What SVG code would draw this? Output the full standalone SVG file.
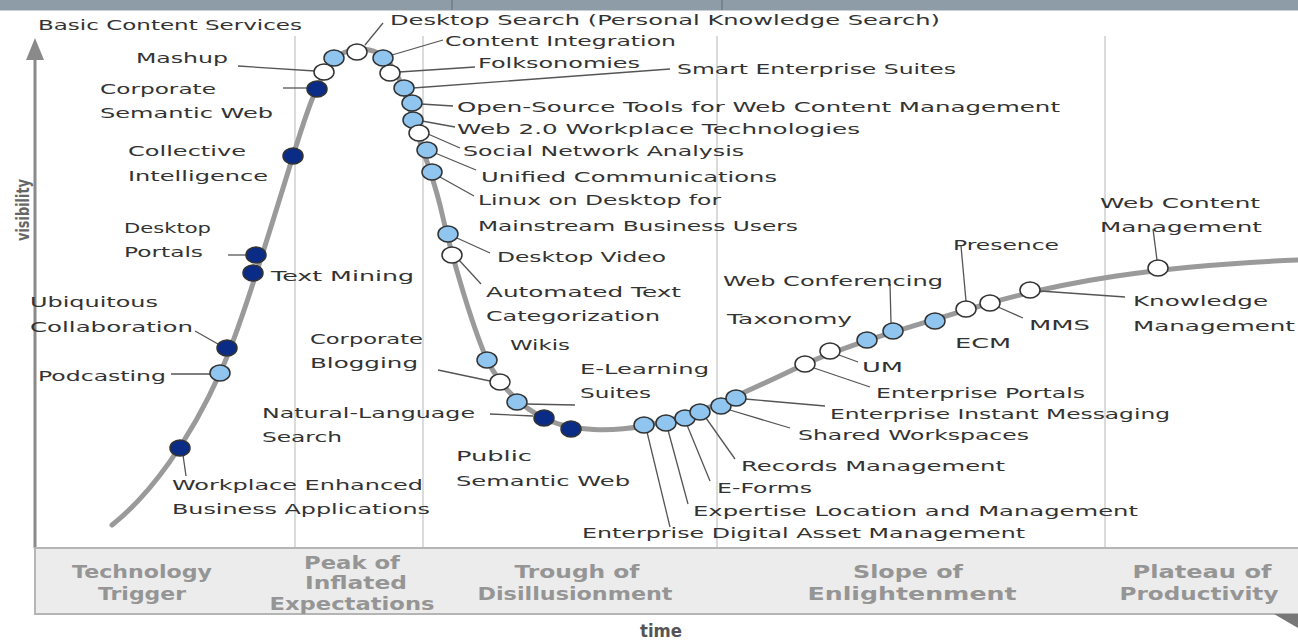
<svg xmlns="http://www.w3.org/2000/svg" width="1298" height="642" viewBox="0 0 1298 642">
<style>
.lbl{font-family:"DejaVu Sans","Liberation Sans",sans-serif;font-size:14px;fill:#333333;}
.ph{font-family:"DejaVu Sans","Liberation Sans",sans-serif;font-size:17px;font-weight:bold;fill:#959595;text-anchor:middle;}
.ax{font-family:"DejaVu Sans","Liberation Sans",sans-serif;font-weight:bold;fill:#555;}
.ld{stroke:#555;stroke-width:1.3;fill:none;}
.dk{fill:#0b2c86;stroke:#333;stroke-width:1.5;}
.lt{fill:#8fc5ef;stroke:#333;stroke-width:1.5;}
.wt{fill:#ffffff;stroke:#333;stroke-width:1.5;}
.div{stroke:#cfcfcf;stroke-width:1.5;}
</style>
<rect width="1298" height="642" fill="#ffffff"/>
<g id="topbar">
<rect x="0" y="0" width="1298" height="10" fill="#8d9ca7"/>
<line x1="0" y1="10.5" x2="1298" y2="10.5" stroke="#c9d0d5" stroke-width="1"/>
<line x1="452" y1="0" x2="452" y2="10" stroke="#6f7d88" stroke-width="1.5"/>
<line x1="722" y1="0" x2="722" y2="10" stroke="#6f7d88" stroke-width="1.5"/>
</g>
<g id="axes">
<line class="div" x1="295" y1="36" x2="295" y2="548"/>
<line class="div" x1="423" y1="36" x2="423" y2="548"/>
<line class="div" x1="717" y1="36" x2="717" y2="548"/>
<line class="div" x1="1105" y1="36" x2="1105" y2="548"/>
<line x1="35" y1="58" x2="35" y2="548" stroke="#8a8a8a" stroke-width="3"/>
<polygon points="26,60 44,60 35,38" fill="#8a8a8a"/>
<text class="ax" x="0" y="0" font-size="17" transform="translate(29,210) rotate(-90)" text-anchor="middle" style="fill:#666" textLength="62" lengthAdjust="spacingAndGlyphs">visibility</text>
<rect x="35" y="548" width="1270" height="66" fill="#ececec" stroke="#b5b5b5" stroke-width="2"/>
<polygon points="1274,614 1298,614 1298,628" fill="#777"/>
<text class="ax" x="661" y="637" font-size="17" text-anchor="middle" textLength="42" lengthAdjust="spacingAndGlyphs">time</text>
</g>
<g id="phases">
<text class="ph" x="142" y="578" textLength="140" lengthAdjust="spacingAndGlyphs">Technology</text>
<text class="ph" x="142" y="600" textLength="88" lengthAdjust="spacingAndGlyphs">Trigger</text>
<text class="ph" x="352" y="569" textLength="96" lengthAdjust="spacingAndGlyphs">Peak of</text>
<text class="ph" x="356" y="589" textLength="102" lengthAdjust="spacingAndGlyphs">Inflated</text>
<text class="ph" x="352" y="610" textLength="165" lengthAdjust="spacingAndGlyphs">Expectations</text>
<text class="ph" x="577" y="578" textLength="125" lengthAdjust="spacingAndGlyphs">Trough of</text>
<text class="ph" x="575" y="600" textLength="195" lengthAdjust="spacingAndGlyphs">Disillusionment</text>
<text class="ph" x="908" y="578" textLength="110" lengthAdjust="spacingAndGlyphs">Slope of</text>
<text class="ph" x="912" y="600" textLength="209" lengthAdjust="spacingAndGlyphs">Enlightenment</text>
<text class="ph" x="1202" y="578" textLength="139" lengthAdjust="spacingAndGlyphs">Plateau of</text>
<text class="ph" x="1199" y="600" textLength="159" lengthAdjust="spacingAndGlyphs">Productivity</text>
</g>
<path id="curve" d="M112,525 C150,495 190,440 220,373 C240,330 270,230 293,156 C305,118 318,72 340,55 C350,48 365,47 378,53 C395,62 405,90 413,120 C420,145 430,165 440,205 C450,250 470,320 487,360 C500,385 520,408 550,421 C575,431 610,432 644,426 C690,418 730,400 805,364 C850,344 900,330 990,303 C1060,283 1150,266 1298,260" fill="none" stroke="#9a9a9a" stroke-width="5" stroke-linecap="round"/>
<g id="connectors">
<line class="ld" x1="183" y1="455" x2="186" y2="476"/>
<line class="ld" x1="171" y1="374" x2="210" y2="374"/>
<line class="ld" x1="195" y1="331" x2="218" y2="344"/>
<line class="ld" x1="228" y1="255" x2="246" y2="255"/>
<line class="ld" x1="283" y1="88" x2="307" y2="88"/>
<line class="ld" x1="238" y1="66" x2="315" y2="71"/>
<line class="ld" x1="365" y1="45" x2="383" y2="23"/>
<line class="ld" x1="392" y1="55" x2="443" y2="40"/>
<line class="ld" x1="399" y1="72" x2="475" y2="67"/>
<line class="ld" x1="413" y1="88" x2="670" y2="69"/>
<line class="ld" x1="421" y1="104" x2="453" y2="106"/>
<line class="ld" x1="422" y1="121" x2="455" y2="127"/>
<line class="ld" x1="428" y1="134" x2="460" y2="148"/>
<line class="ld" x1="435" y1="153" x2="476" y2="170"/>
<line class="ld" x1="440" y1="177" x2="474" y2="196"/>
<line class="ld" x1="457" y1="238" x2="490" y2="253"/>
<line class="ld" x1="459" y1="260" x2="481" y2="284"/>
<line class="ld" x1="438" y1="370" x2="490" y2="381"/>
<line class="ld" x1="525" y1="404" x2="575" y2="405"/>
<line class="ld" x1="490" y1="414" x2="533" y2="416"/>
<line class="ld" x1="647" y1="432" x2="670" y2="527"/>
<line class="ld" x1="668" y1="430" x2="688" y2="504"/>
<line class="ld" x1="687" y1="425" x2="710" y2="481"/>
<line class="ld" x1="706" y1="418" x2="735" y2="459"/>
<line class="ld" x1="730" y1="410" x2="790" y2="428"/>
<line class="ld" x1="745" y1="399" x2="825" y2="406"/>
<line class="ld" x1="814" y1="368" x2="870" y2="387"/>
<line class="ld" x1="839" y1="355" x2="858" y2="362"/>
<line class="ld" x1="891" y1="323" x2="890" y2="284"/>
<line class="ld" x1="966" y1="301" x2="961" y2="246"/>
<line class="ld" x1="998" y1="307" x2="1023" y2="318"/>
<line class="ld" x1="1040" y1="291" x2="1125" y2="297"/>
<line class="ld" x1="1157" y1="260" x2="1153" y2="229"/>
</g>
<g id="labels">
<text class="lbl" x="38" y="30" textLength="264" lengthAdjust="spacingAndGlyphs">Basic Content Services</text>
<text class="lbl" x="390" y="25" textLength="550" lengthAdjust="spacingAndGlyphs">Desktop Search (Personal Knowledge Search)</text>
<text class="lbl" x="445" y="46" textLength="231" lengthAdjust="spacingAndGlyphs">Content Integration</text>
<text class="lbl" x="478" y="68" textLength="162" lengthAdjust="spacingAndGlyphs">Folksonomies</text>
<text class="lbl" x="677" y="74" textLength="279" lengthAdjust="spacingAndGlyphs">Smart Enterprise Suites</text>
<text class="lbl" x="457" y="112" textLength="603" lengthAdjust="spacingAndGlyphs">Open-Source Tools for Web Content Management</text>
<text class="lbl" x="457" y="134" textLength="403" lengthAdjust="spacingAndGlyphs">Web 2.0 Workplace Technologies</text>
<text class="lbl" x="463" y="156" textLength="281" lengthAdjust="spacingAndGlyphs">Social Network Analysis</text>
<text class="lbl" x="481" y="182" textLength="296" lengthAdjust="spacingAndGlyphs">Unified Communications</text>
<text class="lbl" x="478" y="205" textLength="243" lengthAdjust="spacingAndGlyphs">Linux on Desktop for</text>
<text class="lbl" x="478" y="231" textLength="320" lengthAdjust="spacingAndGlyphs">Mainstream Business Users</text>
<text class="lbl" x="497" y="262" textLength="169" lengthAdjust="spacingAndGlyphs">Desktop Video</text>
<text class="lbl" x="486" y="297" textLength="195" lengthAdjust="spacingAndGlyphs">Automated Text</text>
<text class="lbl" x="486" y="321" textLength="174" lengthAdjust="spacingAndGlyphs">Categorization</text>
<text class="lbl" x="136" y="63" textLength="92" lengthAdjust="spacingAndGlyphs">Mashup</text>
<text class="lbl" x="100" y="94" textLength="116" lengthAdjust="spacingAndGlyphs">Corporate</text>
<text class="lbl" x="100" y="118" textLength="173" lengthAdjust="spacingAndGlyphs">Semantic Web</text>
<text class="lbl" x="128" y="156" textLength="118" lengthAdjust="spacingAndGlyphs">Collective</text>
<text class="lbl" x="128" y="181" textLength="140" lengthAdjust="spacingAndGlyphs">Intelligence</text>
<text class="lbl" x="124" y="233" textLength="87" lengthAdjust="spacingAndGlyphs">Desktop</text>
<text class="lbl" x="124" y="257" textLength="79" lengthAdjust="spacingAndGlyphs">Portals</text>
<text class="lbl" x="271" y="281" textLength="143" lengthAdjust="spacingAndGlyphs">Text Mining</text>
<text class="lbl" x="30" y="307" textLength="128" lengthAdjust="spacingAndGlyphs">Ubiquitous</text>
<text class="lbl" x="30" y="332" textLength="163" lengthAdjust="spacingAndGlyphs">Collaboration</text>
<text class="lbl" x="38" y="381" textLength="128" lengthAdjust="spacingAndGlyphs">Podcasting</text>
<text class="lbl" x="172" y="490" textLength="251" lengthAdjust="spacingAndGlyphs">Workplace Enhanced</text>
<text class="lbl" x="172" y="514" textLength="258" lengthAdjust="spacingAndGlyphs">Business Applications</text>
<text class="lbl" x="310" y="344" textLength="113" lengthAdjust="spacingAndGlyphs">Corporate</text>
<text class="lbl" x="310" y="368" textLength="108" lengthAdjust="spacingAndGlyphs">Blogging</text>
<text class="lbl" x="262" y="418" textLength="213" lengthAdjust="spacingAndGlyphs">Natural-Language</text>
<text class="lbl" x="262" y="442" textLength="80" lengthAdjust="spacingAndGlyphs">Search</text>
<text class="lbl" x="510" y="350" textLength="60" lengthAdjust="spacingAndGlyphs">Wikis</text>
<text class="lbl" x="580" y="374" textLength="129" lengthAdjust="spacingAndGlyphs">E-Learning</text>
<text class="lbl" x="580" y="398" textLength="71" lengthAdjust="spacingAndGlyphs">Suites</text>
<text class="lbl" x="456" y="461" textLength="76" lengthAdjust="spacingAndGlyphs">Public</text>
<text class="lbl" x="456" y="486" textLength="174" lengthAdjust="spacingAndGlyphs">Semantic Web</text>
<text class="lbl" x="582" y="538" textLength="443" lengthAdjust="spacingAndGlyphs">Enterprise Digital Asset Management</text>
<text class="lbl" x="693" y="516" textLength="445" lengthAdjust="spacingAndGlyphs">Expertise Location and Management</text>
<text class="lbl" x="717" y="493" textLength="95" lengthAdjust="spacingAndGlyphs">E-Forms</text>
<text class="lbl" x="741" y="471" textLength="264" lengthAdjust="spacingAndGlyphs">Records Management</text>
<text class="lbl" x="798" y="440" textLength="231" lengthAdjust="spacingAndGlyphs">Shared Workspaces</text>
<text class="lbl" x="830" y="419" textLength="340" lengthAdjust="spacingAndGlyphs">Enterprise Instant Messaging</text>
<text class="lbl" x="876" y="398" textLength="209" lengthAdjust="spacingAndGlyphs">Enterprise Portals</text>
<text class="lbl" x="862" y="372" textLength="41" lengthAdjust="spacingAndGlyphs">UM</text>
<text class="lbl" x="727" y="324" textLength="125" lengthAdjust="spacingAndGlyphs">Taxonomy</text>
<text class="lbl" x="723" y="286" textLength="220" lengthAdjust="spacingAndGlyphs">Web Conferencing</text>
<text class="lbl" x="953" y="250" textLength="106" lengthAdjust="spacingAndGlyphs">Presence</text>
<text class="lbl" x="955" y="348" textLength="56" lengthAdjust="spacingAndGlyphs">ECM</text>
<text class="lbl" x="1029" y="330" textLength="61" lengthAdjust="spacingAndGlyphs">MMS</text>
<text class="lbl" x="1133" y="306" textLength="135" lengthAdjust="spacingAndGlyphs">Knowledge</text>
<text class="lbl" x="1133" y="331" textLength="162" lengthAdjust="spacingAndGlyphs">Management</text>
<text class="lbl" x="1100" y="208" textLength="160" lengthAdjust="spacingAndGlyphs">Web Content</text>
<text class="lbl" x="1100" y="232" textLength="162" lengthAdjust="spacingAndGlyphs">Management</text>
</g>
<g id="nodes">
<g id="n-workplace"><ellipse class="dk" cx="180" cy="448" rx="10" ry="8"/></g>
<g id="n-podcasting"><ellipse class="lt" cx="220" cy="373" rx="10" ry="8"/></g>
<g id="n-ubiquitous"><ellipse class="dk" cx="227" cy="348" rx="10" ry="8"/></g>
<g id="n-textmining"><ellipse class="dk" cx="253" cy="273" rx="10" ry="8"/></g>
<g id="n-desktopportals"><ellipse class="dk" cx="256" cy="255" rx="10" ry="8"/></g>
<g id="n-collective"><ellipse class="dk" cx="293" cy="156" rx="10" ry="8"/></g>
<g id="n-corpsemweb"><ellipse class="dk" cx="317" cy="89" rx="10" ry="8"/></g>
<g id="n-mashup"><ellipse class="wt" cx="324" cy="72" rx="10" ry="8"/></g>
<g id="n-basiccontent"><ellipse class="lt" cx="334" cy="58" rx="10" ry="8"/></g>
<g id="n-desktopsearch"><ellipse class="wt" cx="357" cy="52" rx="10" ry="8"/></g>
<g id="n-contentint"><ellipse class="lt" cx="383" cy="58" rx="10" ry="8"/></g>
<g id="n-folksonomies"><ellipse class="wt" cx="390" cy="73" rx="10" ry="8"/></g>
<g id="n-smartent"><ellipse class="lt" cx="404" cy="88" rx="10" ry="8"/></g>
<g id="n-opensource"><ellipse class="lt" cx="412" cy="103" rx="10" ry="8"/></g>
<g id="n-web20"><ellipse class="lt" cx="413" cy="120" rx="10" ry="8"/></g>
<g id="n-sna"><ellipse class="wt" cx="419" cy="133" rx="10" ry="8"/></g>
<g id="n-unified"><ellipse class="lt" cx="427" cy="150" rx="10" ry="8"/></g>
<g id="n-linux"><ellipse class="lt" cx="432" cy="172" rx="10" ry="8"/></g>
<g id="n-desktopvideo"><ellipse class="lt" cx="448" cy="234" rx="10" ry="8"/></g>
<g id="n-autotext"><ellipse class="wt" cx="452" cy="255" rx="10" ry="8"/></g>
<g id="n-wikis"><ellipse class="lt" cx="487" cy="360" rx="10" ry="8"/></g>
<g id="n-corpblog"><ellipse class="wt" cx="500" cy="382" rx="10" ry="8"/></g>
<g id="n-elearning"><ellipse class="lt" cx="517" cy="402" rx="10" ry="8"/></g>
<g id="n-nls"><ellipse class="dk" cx="544" cy="418" rx="10" ry="8"/></g>
<g id="n-pubsemweb"><ellipse class="dk" cx="571" cy="429" rx="10" ry="8"/></g>
<g id="n-edam"><ellipse class="lt" cx="644" cy="425" rx="10" ry="8"/></g>
<g id="n-expertise"><ellipse class="lt" cx="666" cy="423" rx="10" ry="8"/></g>
<g id="n-eforms"><ellipse class="lt" cx="685" cy="418" rx="10" ry="8"/></g>
<g id="n-records"><ellipse class="lt" cx="700" cy="412" rx="10" ry="8"/></g>
<g id="n-shared"><ellipse class="lt" cx="721" cy="406" rx="10" ry="8"/></g>
<g id="n-eim"><ellipse class="lt" cx="736" cy="398" rx="10" ry="8"/></g>
<g id="n-entportals"><ellipse class="wt" cx="805" cy="364" rx="10" ry="8"/></g>
<g id="n-um"><ellipse class="wt" cx="830" cy="351" rx="10" ry="8"/></g>
<g id="n-taxonomy"><ellipse class="lt" cx="867" cy="340" rx="10" ry="8"/></g>
<g id="n-webconf"><ellipse class="lt" cx="893" cy="331" rx="10" ry="8"/></g>
<g id="n-light2"><ellipse class="lt" cx="935" cy="321" rx="10" ry="8"/></g>
<g id="n-presence"><ellipse class="wt" cx="966" cy="309" rx="10" ry="8"/></g>
<g id="n-mms"><ellipse class="wt" cx="990" cy="303" rx="10" ry="8"/></g>
<g id="n-km"><ellipse class="wt" cx="1030" cy="290" rx="10" ry="8"/></g>
<g id="n-wcm"><ellipse class="wt" cx="1158" cy="268" rx="10" ry="8"/></g>
</g>
</svg>
